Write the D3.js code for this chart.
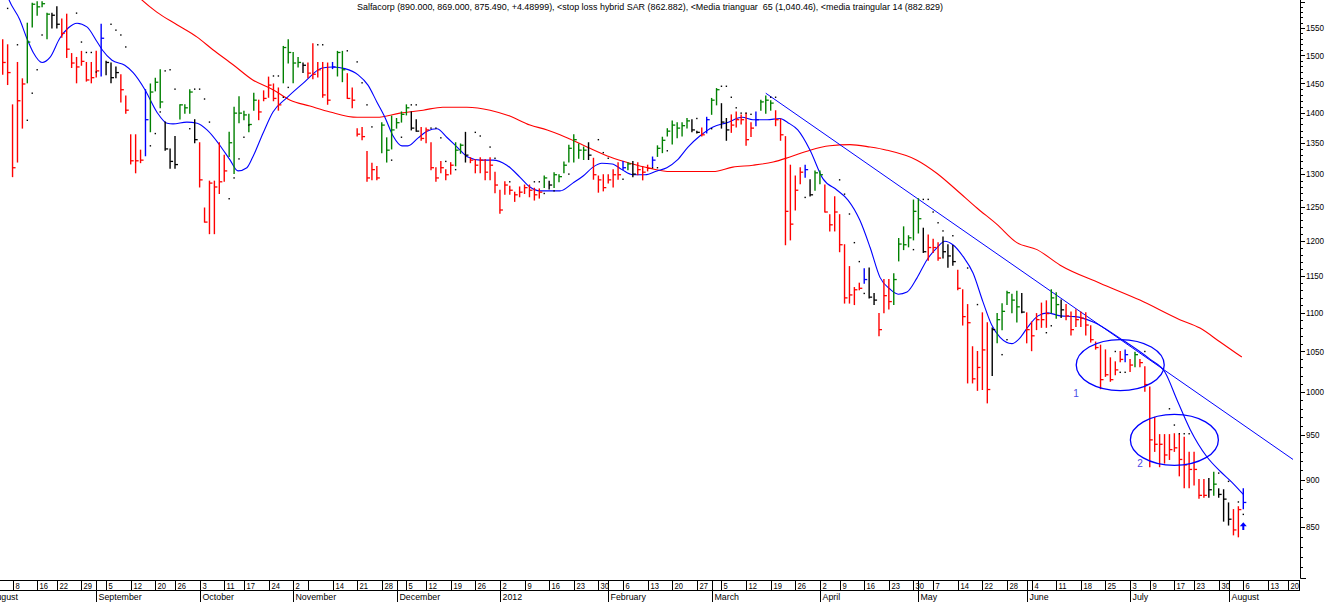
<!DOCTYPE html>
<html>
<head>
<meta charset="utf-8">
<script src="https://cdn.jsdelivr.net/npm/d3@7"></script>
<style>
body { margin: 0; background: #fff; }
svg { display: block; font-family: "Liberation Sans", Arial, sans-serif; }
</style>
</head>
<body>
<script>
// Salfacorp daily bars, one entry per trading day (index 0 = 4 Aug 2011)
const highs = [1528,1519,1413,1487,1458,1559,1597,1600,1600,1578,
    1578,1590,1567,1576,1503,1496,1507,1487,1487,1507,
    1557,1489,1486,1479,1465,1428,1363,1363,1338,1439,
    1449,1459,1474,1384,1340,1360,1413,1413,1439,1388,
    1350,1248,1289,1289,1350,1330,1367,1409,1427,1402,
    1397,1433,1421,1437,1461,1449,1442,1516,1528,1505,
    1496,1486,1486,1521,1487,1487,1486,1487,1507,1507,
    1467,1442,1373,1375,1336,1317,1312,1383,1358,1394,
    1390,1401,1413,1401,1388,1375,1374,1350,1310,1320,
    1307,1318,1350,1348,1367,1326,1323,1326,1323,1326,
    1303,1275,1288,1281,1272,1280,1283,1283,1278,1277,
    1297,1289,1302,1299,1319,1346,1363,1348,1343,1350,
    1325,1297,1299,1299,1307,1318,1320,1318,1320,1318,
    1312,1314,1327,1345,1359,1373,1386,1383,1383,1390,
    1388,1369,1374,1392,1424,1441,1415,1390,1396,1401,
    1396,1399,1383,1401,1421,1428,1420,1403,1389,1360,
    1314,1297,1310,1314,1291,1305,1305,1283,1238,1265,
    1238,1194,1163,1134,1140,1160,1161,1126,1099,1145,
    1145,1153,1203,1220,1207,1260,1262,1218,1208,1202,
    1197,1205,1194,1193,1158,1131,1111,1056,1050,1100,
    1087,1080,1099,1112,1129,1125,1129,1126,1100,1088,
    1099,1113,1116,1131,1127,1117,1111,1101,1104,1101,
    1100,1083,1062,1058,1052,1042,1037,1050,1052,1040,
    1049,1040,1031,1006,970,950,950,950,951,950,
    947,930,930,900,900,901,908,890,889,875,
    868,871,890];

const lows = [1466,1448,1296,1319,1374,1451,1552,1574,1590,1530,
    1550,1550,1533,1496,1478,1451,1482,1454,1451,1461,
    1463,1465,1451,1460,1418,1399,1316,1302,1318,1329,
    1368,1437,1408,1338,1309,1309,1389,1399,1399,1350,
    1280,1227,1210,1210,1270,1289,1328,1301,1383,1388,
    1368,1404,1388,1420,1426,1420,1404,1451,1486,1451,
    1479,1469,1460,1458,1461,1426,1414,1476,1463,1453,
    1424,1408,1361,1355,1289,1291,1291,1334,1319,1340,
    1374,1384,1396,1371,1369,1354,1350,1307,1289,1302,
    1291,1300,1313,1333,1319,1318,1302,1302,1291,1291,
    1271,1240,1269,1269,1258,1265,1270,1265,1260,1263,
    1279,1277,1279,1288,1302,1319,1319,1325,1323,1323,
    1292,1272,1274,1286,1280,1292,1307,1307,1296,1299,
    1291,1305,1312,1328,1334,1361,1348,1358,1361,1374,
    1368,1366,1361,1366,1397,1413,1374,1354,1367,1376,
    1381,1346,1360,1378,1404,1399,1404,1378,1354,1194,
    1201,1245,1285,1295,1266,1275,1285,1242,1214,1214,
    1184,1113,1113,1111,1131,1140,1120,1111,1070,1100,
    1105,1111,1171,1187,1191,1201,1211,1183,1172,1183,
    1172,1175,1162,1165,1131,1084,1011,1011,1002,1003,
    987,1020,1061,1078,1111,1100,1088,1100,1061,1051,
    1078,1081,1081,1100,1093,1094,1091,1071,1082,1082,
    1071,1062,1053,1004,1019,1013,1021,1037,1037,1025,
    1031,1031,1001,914,931,914,918,922,931,904,
    891,891,894,880,881,881,883,881,856,852,
    842,840,869];

const closes = [1487,1469,1310,1420,1449,1524,1595,1590,1596,1576,
    1574,1557,1540,1511,1486,1479,1489,1456,1460,1472,
    1531,1487,1460,1469,1439,1404,1321,1321,1322,1388,
    1435,1452,1418,1340,1320,1315,1413,1408,1435,1355,
    1291,1227,1286,1280,1288,1305,1350,1399,1399,1396,
    1380,1421,1401,1424,1447,1424,1413,1514,1505,1486,
    1487,1482,1468,1466,1474,1430,1421,1479,1505,1474,
    1424,1421,1364,1360,1294,1307,1294,1379,1338,1371,
    1383,1397,1408,1374,1369,1357,1371,1310,1294,1310,
    1299,1314,1338,1346,1330,1322,1314,1322,1303,1314,
    1283,1245,1283,1275,1268,1272,1279,1275,1268,1272,
    1294,1283,1299,1296,1314,1341,1355,1338,1338,1330,
    1299,1291,1279,1291,1299,1299,1310,1316,1300,1307,
    1303,1309,1322,1341,1354,1369,1379,1374,1378,1386,
    1371,1367,1363,1388,1421,1439,1384,1371,1379,1388,
    1388,1355,1374,1388,1418,1421,1416,1388,1363,1243,
    1224,1275,1303,1307,1268,1302,1299,1242,1223,1242,
    1194,1120,1124,1131,1133,1145,1121,1117,1078,1123,
    1115,1145,1195,1194,1204,1243,1232,1184,1190,1190,
    1175,1184,1178,1170,1133,1095,1087,1016,1030,1052,
    1003,1078,1091,1102,1127,1117,1108,1101,1078,1070,
    1091,1091,1099,1120,1111,1104,1096,1078,1091,1093,
    1084,1065,1055,1015,1021,1015,1027,1040,1046,1033,
    1046,1036,1009,944,939,939,927,933,935,922,
    916,911,911,883,883,889,895,884,879,858,
    847,868,875.49];

// R red, G green, K black, B blue
const barColors = ("RRRRRGGGGG" + "KKRRRRRRRR" + "BKKKRRRRRB" + "GGGKKKGGGK" + "RRRRRRGGGG" +
    "GGRRRRRGGG" + "GKRRRRRBGG" + "RRRRRRRGGG" + "GGGKKRRRRR" + "RRGGKRRRRR" +
    "RRRRRRRRRR" + "GKGGGGGGGK" + "RRRRRRBGKR" + "RRBGGGGGGG" + "KKRBGGKKRR" +
    "RRRBGGGRRR" + "RRRBKGGRRR" + "RRRRRBKKRR" + "RGGGGGGKRR" + "RKKKRRRRRR" +
    "RKGGGGGKRR" + "RRRGGKRRRR" + "RRRRRRRRBR" + "GRRRRRRRRR" + "RRRRRKGKKK" + "RRB").split("");

// stop loss hybrid SAR dots [day, value]
const sar = [[1,1587],[3,1519],[5,1387],[6,1433],[7,1474],[8,1537],[15,1578],[16,1524],[17,1505],[18,1505],
    [19,1470],[22,1557],[23,1546],[24,1537],[25,1515],[30,1345],[31,1365],[32,1401],[33,1472],[34,1474],
    [35,1440],[38,1373],[39,1440],[40,1440],[41,1423],[42,1384],[46,1262],[47,1294],[48,1324],[49,1359],
    [50,1379],[55,1463],[56,1463],[57,1426],[58,1443],[64,1519],[65,1519],[70,1508],[72,1488],[73,1451],
    [74,1413],[75,1376],[79,1322],[81,1359],[83,1413],[84,1413],[87,1374],[88,1374],[89,1358],[90,1320],
    [92,1307],[96,1367],[97,1361],[99,1343],[100,1325],[103,1288],[108,1288],[109,1288],[110,1270],[112,1274],
    [115,1300],[121,1355],[122,1334],[123,1325],[126,1292],[132,1310],[133,1310],[135,1337],[141,1390],[144,1373],
    [146,1445],[147,1445],[148,1426],[149,1408],[150,1399],[151,1399],[152,1397],[156,1426],[157,1426],[163,1264],
    [170,1291],[171,1269],[172,1239],[173,1197],[174,1170],[175,1126],[185,1187],[187,1261],[188,1261],[189,1242],
    [190,1226],[191,1214],[193,1207],[196,1161],[198,1111],[203,1046],[204,1065],[212,1074],[213,1083],[226,1050],
    [227,1024],[228,1024],[232,1050],[237,980],[238,961],[239,951],[240,951],[241,951],[247,907],[249,898],
    [251,876],[252,863]];

// media triangular 14 (blue) [day, value]
const ma14 = [[0,1640],[1.3,1603],[3.5,1565],[4.9,1531],[6.2,1505],[8,1487],[9.6,1496],[11.6,1531],[13.3,1550],[15.1,1559],
    [17.1,1552],[19.2,1524],[20.2,1510],[22.2,1491],[24.8,1482],[26.5,1469],[28.9,1439],[31.3,1401],[33.4,1382],[34.6,1381],
    [37.4,1384],[39.5,1382],[41.5,1371],[44.1,1346],[46.2,1322],[47.8,1305],[49.6,1310],[50.8,1327],[52.9,1366],[54.9,1401],
    [57.7,1425],[61,1450],[64.9,1477],[67.1,1479],[69.5,1476],[72.2,1465],[74.2,1447],[76,1418],[77.7,1391],[79.3,1361],
    [81.1,1345],[82.3,1345],[84.4,1358],[86.2,1369],[88.2,1373],[90.2,1359],[92.3,1343],[94.5,1327],[97,1322],[99.6,1322],
    [102.4,1314],[105.1,1295],[107.1,1280],[109.1,1274],[113.2,1274],[115.8,1286],[117.9,1297],[119.9,1311],[121.7,1317],[123.8,1316],
    [125.8,1307],[128,1299],[130.5,1299],[132.9,1305],[134.9,1310],[137,1322],[139.2,1343],[141.6,1361],[144.3,1376],[147.1,1383],
    [150.2,1392],[152.4,1388],[155.3,1388],[157.9,1390],[159.5,1383],[161.5,1371],[164,1338],[166.6,1293],[169.5,1275],[171.7,1260],
    [174.1,1230],[176.2,1190],[178.2,1148],[180.2,1132],[181.9,1125],[183.7,1128],[185.7,1147],[187.7,1172],[189.8,1190],[191.4,1199],
    [193,1194],[195.1,1177],[197.1,1154],[199.1,1115],[200.9,1084],[202.6,1068],[205,1060],[206.6,1067],[208.3,1082],[210.3,1096],
    [212.3,1100],[214.8,1096],[217.8,1095],[221.5,1088],[226.9,1067],[233.1,1040],[236.1,1024],[238.5,991],[241.2,956],[244.6,925],
    [247.3,909],[249.7,897],[252,884]];

// media triangular 65 (red)
const ma65 = [[26,1625],[28.3,1603],[31.3,1580],[35.4,1556],[39.5,1533],[42.7,1510],[46.8,1483],[50.8,1456],[54.9,1439],[58.4,1421],
    [62.4,1411],[66.5,1401],[72,1392],[76,1392],[80.7,1399],[85.4,1404],[89.4,1409],[94.3,1409],[99,1404],[103,1394],
    [107.1,1379],[110.6,1371],[113.2,1363],[115.2,1356],[119.3,1341],[123.4,1327],[127.4,1317],[131.5,1309],[135.6,1304],[139.6,1304],
    [144.3,1304],[148.3,1311],[152.4,1314],[156.5,1319],[159.9,1327],[164,1338],[168,1345],[172.1,1347],[176.2,1343],[179.6,1338],
    [185.7,1322],[189.8,1301],[193.8,1275],[197.9,1248],[201.9,1224],[206,1197],[210.1,1187],[214.8,1165],[222.9,1140],[231,1117],
    [239.1,1091],[243.2,1080],[247.3,1062],[251.7,1043]];

// hand-drawn annotations
const trendLine = [[155,1433],[262.1,922]];
const circles = [[227,1033],[238,944]];
const circleNames = [["1",218,998],["2",231,917]];
const arrowAt = [252,855,847];

const priceTicks = [850,900,950,1000,1050,1100,1150,1200,1250,1300,1350,1400,1450,1500,1550];

const weekLabels = ["8","16","22","29","5","12","20","26","3","11","17","24","2","","14","21","28",
    "5","12","19","26","2","9","16","23","30","6","13","20","27","5","12","19","26",
    "2","9","16","23","30","7","14","22","28","4","11","18","25","3","9","17","23","30","6","13","20"];
const weekIdx = [2,7,11,16,21,26,31,35,40,45,49,54,59,62,67,72,77,
    82,86,91,96,101,106,111,116,121,126,131,136,141,146,151,156,161,
    166,170,175,180,185,189,194,199,204,209,214,219,224,229,233,238,242,247,252,257,261];

const monthLabels = ["August","September","October","November","December","2012","February","March","April","May","June","July","August"];
const monthIdx = [-3,19,40,59,80,101,123,144,166,186,208,229,249];

const title = "Salfacorp (890.000, 869.000, 875.490, +4.48999), <stop loss hybrid SAR (862.882), <Media trianguar  65 (1,040.46), <media traingular 14 (882.829)";

const width = 1336, height = 602;
const plotRight = 1300, plotBottom = 579;
const colorMap = {R: "#ff0000", G: "#008000", K: "#000000", B: "#0000ff"};

const svg = d3.select("body").append("svg")
    .attr("width", width)
    .attr("height", height);

svg.append("rect").attr("width", width).attr("height", height).attr("fill", "#fff");

svg.append("defs").append("clipPath").attr("id", "plotClip")
    .append("rect").attr("width", plotRight).attr("height", plotBottom);

const x = d3.scaleLinear().domain([0, 252]).range([2.7, 1243.3]);
const y = d3.scaleLog().domain([850, 1550]).range([527, 28]);

const plot = svg.append("g").attr("clip-path", "url(#plotClip)");

// red and blue averages
const line = d3.line()
    .x(d => x(d[0]))
    .y(d => y(d[1]))
    .curve(d3.curveMonotoneX);

plot.append("path")
    .attr("d", line(ma65))
    .attr("fill", "none")
    .attr("stroke", "#ff0000")
    .attr("stroke-width", 1.1);

plot.append("path")
    .attr("d", line(ma14))
    .attr("fill", "none")
    .attr("stroke", "#0000ff")
    .attr("stroke-width", 1.1);

// trend line
plot.append("line")
    .attr("x1", x(trendLine[0][0])).attr("y1", y(trendLine[0][1]))
    .attr("x2", x(trendLine[1][0])).attr("y2", y(trendLine[1][1]))
    .attr("stroke", "#0000ff")
    .attr("stroke-width", 1);

// OHLC bars (high-low line plus close tick)
const bars = plot.selectAll("g.bar")
    .data(d3.range(highs.length))
    .enter()
    .append("g")
    .attr("class", "bar")
    .attr("stroke", i => colorMap[barColors[i]]);

bars.append("line")
    .attr("x1", i => x(i))
    .attr("x2", i => x(i))
    .attr("y1", i => y(highs[i]) - 0.5)
    .attr("y2", i => y(lows[i]) + 0.5)
    .attr("stroke-width", 1.4);

bars.append("line")
    .attr("x1", i => x(i))
    .attr("x2", i => x(i) + 3)
    .attr("y1", i => y(closes[i]))
    .attr("y2", i => y(closes[i]))
    .attr("stroke-width", 1.3);

// SAR dots
plot.selectAll("rect.sar")
    .data(sar)
    .enter()
    .append("rect")
    .attr("class", "sar")
    .attr("x", d => x(d[0]) - 0.7)
    .attr("y", d => y(d[1]) - 0.7)
    .attr("width", 1.4)
    .attr("height", 1.4)
    .attr("fill", "#000");

// circled areas and their numbers
plot.selectAll("ellipse")
    .data(circles)
    .enter()
    .append("ellipse")
    .attr("cx", d => x(d[0]))
    .attr("cy", d => y(d[1]))
    .attr("rx", 44)
    .attr("ry", 25.5)
    .attr("fill", "none")
    .attr("stroke", "#0000ff")
    .attr("stroke-width", 1.3);

plot.selectAll("text.num")
    .data(circleNames)
    .enter()
    .append("text")
    .attr("class", "num")
    .attr("x", d => x(d[1]))
    .attr("y", d => y(d[2]) + 3.5)
    .attr("text-anchor", "middle")
    .attr("font-size", 10)
    .attr("fill", "#4a4ae6")
    .text(d => d[0]);

// little up arrow under the last bar
const ax = x(arrowAt[0]), aTop = y(arrowAt[1]), aBot = y(arrowAt[2]);
plot.append("path")
    .attr("d", `M${ax},${aTop} L${ax + 3.5},${aTop + 4} L${ax + 1},${aTop + 4} L${ax + 1},${aBot} L${ax - 1},${aBot} L${ax - 1},${aTop + 4} L${ax - 3.5},${aTop + 4} Z`)
    .attr("fill", "#0000ff");

// title
svg.append("text")
    .attr("x", 357)
    .attr("y", 9.5)
    .attr("font-size", 9.5)
    .attr("textLength", 586)
    .attr("lengthAdjust", "spacingAndGlyphs")
    .style("white-space", "pre")
    .text(title);

// right price axis
svg.append("line")
    .attr("x1", plotRight + 0.5).attr("x2", plotRight + 0.5)
    .attr("y1", 0).attr("y2", 578.5)
    .attr("stroke", "#000");
svg.append("line")
    .attr("x1", plotRight + 0.5).attr("x2", plotRight + 6)
    .attr("y1", 578.5).attr("y2", 578.5)
    .attr("stroke", "#000");

const minorTicks = d3.range(800, 1610, 10).filter(v => y(v) >= 0 && y(v) <= 577);
svg.selectAll("line.minor")
    .data(minorTicks)
    .enter()
    .append("line")
    .attr("class", "minor")
    .attr("x1", plotRight + 0.5)
    .attr("x2", v => plotRight + (v % 50 === 0 ? 5 : 3))
    .attr("y1", v => Math.round(y(v)) + 0.5)
    .attr("y2", v => Math.round(y(v)) + 0.5)
    .attr("stroke", "#000");

svg.selectAll("text.price")
    .data(priceTicks)
    .enter()
    .append("text")
    .attr("class", "price")
    .attr("transform", v => `translate(1306,${y(v) + 3.3}) scale(0.85,1)`)
    .attr("font-size", 9.5)
    .attr("fill", "#000")
    .text(v => v);

// bottom date axis: week row and month row
const axisG = svg.append("g").attr("stroke", "#000").attr("shape-rendering", "crispEdges");
axisG.append("line").attr("x1", 0).attr("x2", plotRight).attr("y1", 580.5).attr("y2", 580.5);
axisG.append("line").attr("x1", 0).attr("x2", plotRight).attr("y1", 590.5).attr("y2", 590.5);
axisG.append("line").attr("x1", plotRight - 0.5).attr("x2", plotRight - 0.5).attr("y1", 580.5).attr("y2", 590.5);

axisG.selectAll("line.week")
    .data(weekIdx)
    .enter()
    .append("line")
    .attr("class", "week")
    .attr("x1", i => Math.round(x(i)) + 0.5)
    .attr("x2", i => Math.round(x(i)) + 0.5)
    .attr("y1", 580.5)
    .attr("y2", 590.5);

axisG.selectAll("line.month")
    .data(monthIdx)
    .enter()
    .append("line")
    .attr("class", "month")
    .attr("x1", i => Math.round(x(i)) + 0.5)
    .attr("x2", i => Math.round(x(i)) + 0.5)
    .attr("y1", 580.5)
    .attr("y2", 602);

svg.selectAll("text.week")
    .data(weekLabels)
    .enter()
    .append("text")
    .attr("class", "week")
    .attr("transform", (d, k) => `translate(${Math.round(x(weekIdx[k])) + 2.5},589) scale(0.82,1)`)
    .attr("font-size", 9.3)
    .text(d => d);

// the first month name runs off the left edge, as in the original
svg.selectAll("text.month")
    .data(monthLabels)
    .enter()
    .append("text")
    .attr("class", "month")
    .attr("transform", (d, k) => `translate(${Math.round(x(monthIdx[k])) + 2.5},600) scale(0.95,1)`)
    .attr("font-size", 9.3)
    .text(d => d);
</script>
</body>
</html>
